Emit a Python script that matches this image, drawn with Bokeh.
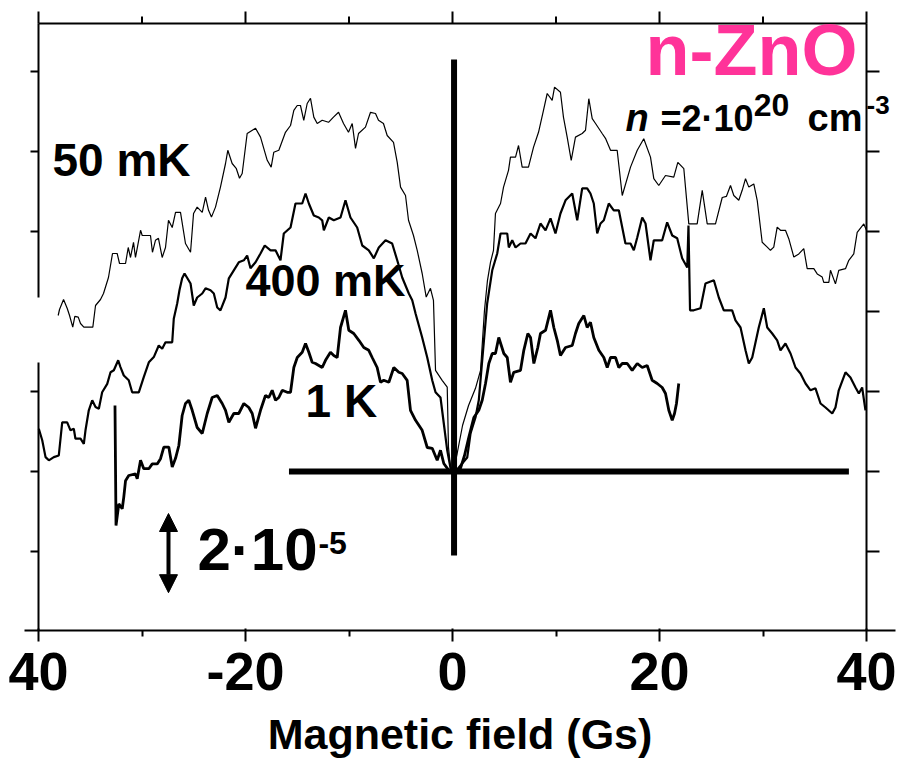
from bokeh.plotting import figure
from bokeh.models import (Range1d, LinearAxis, FixedTicker, Label, Arrow, NormalHead)
from bokeh.embed import file_html
from bokeh.resources import INLINE

# ---------------- data (field in Gs, signal in units of 1e-5) ----------------
field_50mk = [-38.10, -37.97, -37.58, -37.23, -37.00, -36.69, -36.49, -36.16, -35.94, -35.62,
              -34.75, -34.49, -34.01, -33.72, -33.24, -32.85, -32.40, -32.17, -31.59, -31.33,
              -31.11, -30.82, -30.63, -30.14, -29.98, -29.18, -28.99, -28.70, -28.41, -28.05,
              -27.73, -27.44, -27.08, -26.76, -26.28, -25.80, -25.31, -25.02, -24.67, -24.18,
              -23.86, -23.57, -23.29, -22.90, -22.42, -21.93, -21.71, -21.29, -20.90, -20.58,
              -20.32, -19.84, -19.03, -18.55, -17.90, -17.52, -17.27, -16.78, -16.14, -15.65,
              -15.33, -15.00, -14.69, -14.37, -14.04, -13.72, -13.40, -13.07, -12.59, -11.98,
              -11.50, -11.01, -10.53, -10.05, -9.69, -9.37, -9.08, -8.41, -7.92, -7.44,
              -7.15, -6.67, -6.31, -5.70, -5.34, -5.02, -4.54, -4.25, -3.77, -3.41,
              -2.93, -2.54, -2.13, -1.84, -1.64, -1.00, -0.51, -0.39, -0.19, 0.10,
              0.45, 0.97, 1.55, 2.22, 2.71, 3.09, 3.38, 3.67, 3.96, 4.15,
              4.64, 4.93, 5.41, 5.60, 6.09, 6.38, 6.73, 7.34, 7.83, 8.31,
              8.79, 9.15, 9.63, 9.86, 10.43, 10.72, 11.08, 11.47, 11.88, 12.53,
              12.85, 13.17, 13.50, 13.82, 14.46, 14.78, 15.27, 15.91, 16.40, 17.20,
              17.85, 18.48, 19.13, 19.45, 19.93, 20.58, 21.38, 21.77, 22.35, 22.83,
              23.64, 24.13, 24.61, 25.41, 26.06, 26.47, 26.86, 27.18, 27.66, 27.99,
              28.31, 28.63, 29.11, 29.44, 29.92, 30.41, 30.72, 31.04, 31.37, 31.69,
              32.17, 32.49, 32.98, 33.46, 33.94, 34.27, 34.91, 35.24, 35.72, 35.87,
              36.36, 36.52, 37.00, 37.32, 37.97, 38.29, 38.77, 39.10, 39.74, 40.00]
signal_50mk = [3.90, 4.05, 4.30, 4.08, 3.90, 3.61, 3.88, 3.86, 3.70, 3.61,
               3.61, 4.15, 4.30, 4.45, 4.85, 5.45, 5.45, 5.20, 5.20, 5.60,
               5.35, 5.73, 5.35, 6.03, 5.90, 5.90, 5.48, 5.78, 5.83, 5.35,
               5.60, 6.28, 6.10, 6.48, 6.48, 5.70, 5.48, 6.45, 6.61, 6.48,
               6.86, 6.53, 6.36, 6.61, 7.11, 7.70, 8.03, 7.70, 7.58, 7.33,
               7.45, 8.45, 8.58, 8.36, 7.78, 7.61, 7.98, 8.03, 8.48, 8.65,
               9.03, 9.15, 9.15, 8.78, 9.20, 9.33, 8.86, 8.70, 8.78, 8.73,
               8.86, 8.98, 8.70, 8.48, 8.70, 8.08, 8.45, 8.61, 8.98, 8.95,
               8.78, 8.70, 8.40, 8.23, 7.73, 7.11, 6.90, 6.28, 5.90, 5.53,
               4.95, 4.36, 4.58, 4.28, 2.53, 2.28, 2.11, 0.61, 0.11, 0.03,
               0.45, 1.15, 1.65, 2.08, 2.53, 4.03, 4.78, 5.23, 5.53, 6.45,
               6.70, 7.11, 7.53, 7.86, 7.86, 8.15, 7.61, 7.61, 8.11, 8.48,
               9.03, 9.45, 9.28, 9.61, 9.48, 8.86, 8.36, 7.78, 8.36, 8.45,
               8.53, 9.32, 8.82, 8.70, 8.45, 8.33, 8.03, 8.03, 6.90, 7.61,
               8.03, 8.32, 7.86, 7.32, 7.15, 7.40, 7.36, 7.73, 7.57, 6.19,
               6.19, 7.03, 6.19, 6.19, 6.85, 6.88, 7.15, 6.90, 6.78, 7.03,
               7.32, 7.11, 7.19, 6.78, 5.73, 5.61, 5.53, 5.61, 6.11, 6.03,
               6.03, 5.82, 5.36, 5.44, 5.57, 5.07, 5.07, 4.94, 4.86, 4.73,
               4.73, 5.03, 4.69, 5.03, 5.07, 5.28, 5.44, 5.98, 6.19, 6.03]

field_400mk = [-39.97, -39.64, -39.32, -39.00, -38.52, -38.04, -37.71, -37.23, -36.91, -36.59,
               -36.43, -35.94, -35.62, -35.46, -35.14, -34.81, -34.49, -34.17, -33.85, -33.36,
               -33.04, -32.72, -32.30, -32.08, -31.76, -31.28, -30.95, -30.31, -29.83, -29.34,
               -28.86, -28.38, -28.05, -27.73, -27.08, -26.93, -26.60, -26.38, -26.12, -25.89,
               -25.31, -25.00, -24.67, -24.18, -23.86, -23.38, -23.06, -22.73, -22.42, -21.93,
               -21.61, -21.13, -20.65, -20.16, -19.84, -19.52, -19.03, -18.55, -18.14, -17.58,
               -17.10, -16.62, -16.30, -15.65, -15.17, -14.52, -14.20, -13.88, -13.40, -12.92,
               -12.59, -12.43, -11.95, -11.47, -10.82, -10.34, -9.86, -9.21, -8.72, -8.09,
               -7.60, -7.12, -6.47, -5.83, -5.34, -4.86, -4.22, -3.89, -3.57, -2.93,
               -2.44, -1.96, -1.64, -1.16, -0.84, -0.51, -0.19, 0.29, 0.77, 1.42,
               1.74, 2.22, 2.54, 2.87, 3.35, 3.84, 4.32, 4.64, 5.29, 5.44,
               5.77, 6.09, 6.57, 7.05, 7.54, 8.02, 8.50, 8.99, 9.47, 9.95,
               10.43, 10.92, 11.57, 12.05, 12.53, 13.01, 13.33, 13.65, 13.98, 14.30,
               14.62, 15.10, 15.58, 16.07, 16.71, 17.20, 17.52, 17.85, 18.33, 18.65,
               19.13, 19.45, 20.26, 20.74, 21.23, 21.71, 22.19, 22.68, 22.80, 22.95,
               23.31, 23.96, 24.44, 25.25, 25.73, 26.21, 27.02, 27.34, 27.83, 28.31,
               28.63, 28.96, 29.59, 30.08, 30.41, 30.89, 31.37, 31.69, 32.17, 32.66,
               33.14, 33.62, 34.11, 34.59, 35.07, 35.56, 36.04, 36.69, 37.00, 37.32,
               37.97, 38.45, 38.94, 39.26, 39.58, 39.90]
signal_400mk = [1.07, 0.78, 0.36, 0.28, 0.36, 0.40, 1.23, 1.23, 1.03, 1.07,
                0.82, 0.82, 0.69, 1.03, 1.53, 1.78, 1.61, 1.57, 1.98, 2.19,
                2.48, 2.53, 2.78, 2.61, 2.40, 2.28, 1.98, 1.98, 2.36, 2.73,
                2.86, 3.15, 3.07, 3.23, 3.23, 3.82, 4.20, 4.53, 4.83, 4.95,
                4.70, 4.15, 4.35, 4.45, 4.58, 4.53, 4.45, 4.10, 4.03, 4.35,
                4.83, 5.03, 5.23, 5.28, 5.40, 5.08, 5.23, 5.45, 5.65, 5.53,
                5.53, 5.28, 5.95, 6.10, 6.70, 6.70, 6.95, 6.70, 6.40, 6.35,
                6.28, 6.03, 6.35, 6.28, 6.35, 6.78, 6.35, 6.10, 5.65, 5.53,
                5.33, 5.60, 5.78, 5.70, 5.28, 4.85, 4.45, 4.28, 3.95, 3.35,
                2.85, 2.28, 1.98, 1.85, 1.20, 0.53, 0.08, 0.00, 0.15, 0.35,
                0.95, 1.35, 1.78, 2.78, 4.20, 5.03, 5.45, 5.95, 5.95, 5.60,
                5.78, 5.60, 5.70, 5.70, 5.95, 5.83, 6.20, 6.03, 6.33, 5.95,
                6.45, 6.78, 6.95, 6.28, 7.08, 7.08, 6.95, 6.70, 5.95, 6.20,
                6.28, 6.70, 6.53, 6.53, 5.70, 5.70, 5.53, 5.85, 6.35, 6.20,
                5.28, 5.78, 5.78, 6.23, 5.90, 5.83, 5.33, 5.10, 6.15, 4.03,
                4.03, 4.08, 4.70, 4.78, 4.35, 4.03, 4.03, 3.78, 3.60, 3.03,
                2.70, 2.85, 3.60, 4.08, 3.60, 3.45, 3.28, 3.03, 3.20, 2.95,
                2.60, 2.45, 2.20, 2.03, 2.08, 1.70, 1.60, 1.45, 1.60, 2.03,
                2.48, 2.35, 2.10, 1.95, 2.10, 1.53]

field_1k = [-32.61, -32.51, -32.24, -31.91, -31.76, -31.59, -31.28, -30.63, -30.46, -30.14,
            -29.83, -29.34, -29.01, -28.53, -28.21, -27.89, -27.41, -27.08, -26.76, -26.44,
            -26.12, -25.80, -25.48, -25.15, -24.67, -24.18, -23.70, -23.22, -22.73, -22.25,
            -21.93, -21.61, -21.13, -20.65, -20.16, -19.68, -19.35, -19.03, -18.55, -18.07,
            -17.75, -17.42, -17.10, -16.78, -16.45, -15.97, -15.65, -15.33, -15.00, -14.52,
            -14.20, -13.88, -13.56, -13.24, -12.59, -12.27, -11.79, -11.47, -11.14, -10.82,
            -10.34, -10.02, -9.54, -9.05, -8.57, -8.09, -7.76, -7.28, -6.96, -6.64,
            -6.15, -5.67, -5.19, -4.86, -4.38, -4.06, -3.57, -2.93, -2.44, -1.96,
            -1.48, -1.16, -0.84, -0.36, 0.29, 0.77, 1.16, 1.57, 2.06, 2.54,
            2.87, 3.19, 3.51, 3.84, 4.15, 4.47, 4.96, 5.29, 5.60, 5.92,
            6.57, 6.89, 7.28, 7.54, 7.86, 8.24, 8.50, 8.99, 9.47, 9.79,
            10.12, 10.43, 10.92, 11.57, 11.88, 12.20, 12.69, 13.01, 13.33, 13.65,
            14.14, 14.62, 14.95, 15.27, 15.75, 16.07, 16.40, 16.88, 17.36, 17.85,
            18.33, 18.81, 19.29, 19.78, 20.26, 20.58, 20.90, 21.23, 21.45, 21.64,
            21.86]
signal_1k = [1.65, -1.35, -0.81, -0.93, -0.64, -0.23, -0.10, -0.06, -0.18, 0.28,
             0.07, 0.07, 0.19, 0.19, 0.32, 0.61, 0.61, 0.11, 0.33, 0.65,
             1.40, 1.70, 1.78, 1.53, 1.10, 0.95, 1.45, 1.85, 1.90, 1.70,
             1.53, 1.23, 1.45, 1.45, 1.70, 1.60, 1.45, 1.08, 1.53, 1.90,
             1.85, 2.03, 1.78, 1.85, 2.03, 1.98, 1.98, 2.60, 2.85, 2.98,
             3.20, 2.98, 2.73, 2.70, 2.60, 2.78, 2.98, 2.90, 2.85, 3.60,
             4.03, 3.53, 3.45, 3.28, 3.10, 3.03, 2.85, 2.60, 2.23, 2.28,
             2.23, 2.60, 2.48, 2.45, 2.28, 1.53, 1.28, 1.03, 0.60, 0.58,
             0.28, 0.53, 0.20, 0.03, 0.00, 0.08, 0.40, 0.85, 1.35, 1.53,
             1.78, 2.20, 2.70, 2.95, 2.95, 3.35, 2.95, 2.85, 2.23, 2.48,
             2.53, 3.03, 3.45, 3.35, 2.70, 3.10, 3.45, 3.53, 4.03, 3.60,
             3.28, 2.90, 3.10, 3.15, 3.45, 3.70, 3.90, 3.60, 3.73, 3.35,
             3.03, 2.85, 2.60, 2.85, 2.85, 2.60, 2.70, 2.70, 2.53, 2.70,
             2.60, 2.65, 2.28, 2.20, 2.10, 1.95, 1.53, 1.28, 1.45, 1.70,
             2.20]

x_major_ticks = [-40, -20, 0, 20, 40]
x_minor_ticks = [-30, -10, 10, 30]
x_tick_labels = {-40: "40", -20: "-20", 0: "0", 20: "20", 40: "40"}
y_ticks_right = [-2, 0, 2, 4, 6, 8, 10]
y_ticks_left = [-2, 0, 2, 6, 8, 10]

# box limits of the original plot (data units)
X_MIN, X_MAX = -40.0, 40.0
Y_MIN, Y_MAX = -3.975, 11.2

# reference cross (thick lines) and scale bar
cross_h_x = [-15.8, 38.3]
cross_h_y = [0.0, 0.0]
cross_v_x = [0.15, 0.15]
cross_v_y = [-2.1, 10.3]
scale_bar_x = -27.44
scale_bar_y = [-1.05, -3.03]
left_edge_y0 = [4.35, Y_MIN]
left_edge_y1 = [Y_MAX, 2.725]

FONT = "Liberation Sans"

# pixel scale: 828 px for 80 Gs, 40 px per 1e-5
PX_X = 80.0 / 828.0
PX_Y = 1.0 / 40.0

p = figure(width=905, height=760, output_backend="svg", toolbar_location=None,
           x_range=Range1d(X_MIN - 14 * PX_X, X_MAX + 29 * PX_X),
           y_range=Range1d(Y_MIN, Y_MAX + 15 * PX_Y),
           x_axis_location=None, y_axis_location=None,
           min_border_left=24, min_border_right=10, min_border_top=8, min_border_bottom=130,
           background_fill_color="white", border_fill_color="white")
p.title.visible = False
p.outline_line_color = None
p.xgrid.visible = False
p.ygrid.visible = False

# bottom axis (real axis with labels)
xb = LinearAxis(ticker=FixedTicker(ticks=x_major_ticks, minor_ticks=x_minor_ticks))
xb.axis_line_width = 2
xb.axis_line_color = "black"
xb.major_tick_line_width = 2
xb.minor_tick_line_width = 2
xb.major_tick_in = 2
xb.minor_tick_in = 0
xb.major_tick_out = 11
xb.minor_tick_out = 6
xb.major_label_overrides = x_tick_labels
xb.major_label_text_font = FONT
xb.major_label_text_font_style = "bold"
xb.major_label_text_font_size = "54px"
xb.major_label_text_color = "black"
xb.major_label_standoff = 11
xb.axis_label = "Magnetic field (Gs)"
xb.axis_label_text_font = FONT
xb.axis_label_text_font_style = "bold"
xb.axis_label_text_font_size = "43px"
xb.axis_label_text_color = "black"
xb.axis_label_standoff = 17
p.add_layout(xb, "below")

# frame lines of the original box (top, right, left with its gap)
p.segment(x0=X_MIN, y0=Y_MAX, x1=X_MAX, y1=Y_MAX, line_color="black", line_width=2)
p.segment(x0=X_MAX, y0=Y_MIN, x1=X_MAX, y1=Y_MAX, line_color="black", line_width=2)
p.segment(x0=X_MIN, y0=left_edge_y0, x1=X_MIN, y1=left_edge_y1, line_color="black", line_width=2)

# tick marks on top, right and left sides (outward)
p.segment(x0=x_major_ticks, y0=Y_MAX, x1=x_major_ticks, y1=Y_MAX + 12 * PX_Y,
          line_color="black", line_width=2)
p.segment(x0=x_minor_ticks, y0=Y_MAX, x1=x_minor_ticks, y1=Y_MAX + 7 * PX_Y,
          line_color="black", line_width=2)
p.segment(x0=X_MAX, y0=y_ticks_right, x1=X_MAX + 13 * PX_X, y1=y_ticks_right,
          line_color="black", line_width=2)
p.segment(x0=X_MIN - 8 * PX_X, y0=y_ticks_left, x1=X_MIN, y1=y_ticks_left,
          line_color="black", line_width=2)

# curves
p.line(field_50mk, signal_50mk, line_color="black", line_width=1.2)
p.line(field_400mk, signal_400mk, line_color="black", line_width=2.2)
p.line(field_1k, signal_1k, line_color="black", line_width=2.8)

# thick cross
p.line(cross_h_x, cross_h_y, line_color="black", line_width=6, line_cap="butt")
p.line(cross_v_x, cross_v_y, line_color="black", line_width=6, line_cap="butt")

# scale bar arrow
p.add_layout(Arrow(x_start=scale_bar_x, y_start=scale_bar_y[0], x_end=scale_bar_x, y_end=scale_bar_y[1],
                   line_width=4, line_color="black",
                   start=NormalHead(size=18, fill_color="black", line_color="black"),
                   end=NormalHead(size=18, fill_color="black", line_color="black")))


def lab(x, y, text, size, color="black", style="bold"):
    # y is the intended baseline; shift for the renderer's baseline offset
    y_adj = y + 0.385 * size * PX_Y
    p.add_layout(Label(x=x, y=y_adj, text=text, text_font=FONT, text_font_style=style,
                       text_font_size=f"{size}px", text_color=color,
                       text_align="left", text_baseline="alphabetic"))


lab(-38.65, 7.35, "50 mK", 46)
lab(-20.0, 4.35, "400 mK", 45)
lab(-14.2, 1.32, "1 K", 46)
lab(18.65, 9.85, "n-ZnO", 72, color="#ff3399")
lab(16.71, 8.475, "n", 38, style="bold italic")
lab(20.1, 8.475, "=2\u00b710", 36)
lab(29.1, 8.85, "20", 32)
lab(34.3, 8.475, "cm", 38)
lab(40.0, 8.9, "-3", 26)
lab(-24.64, -2.525, "2\u00b710", 60)
lab(-12.95, -2.1, "-5", 32)

open("out.html", "w").write(file_html(p, INLINE))
